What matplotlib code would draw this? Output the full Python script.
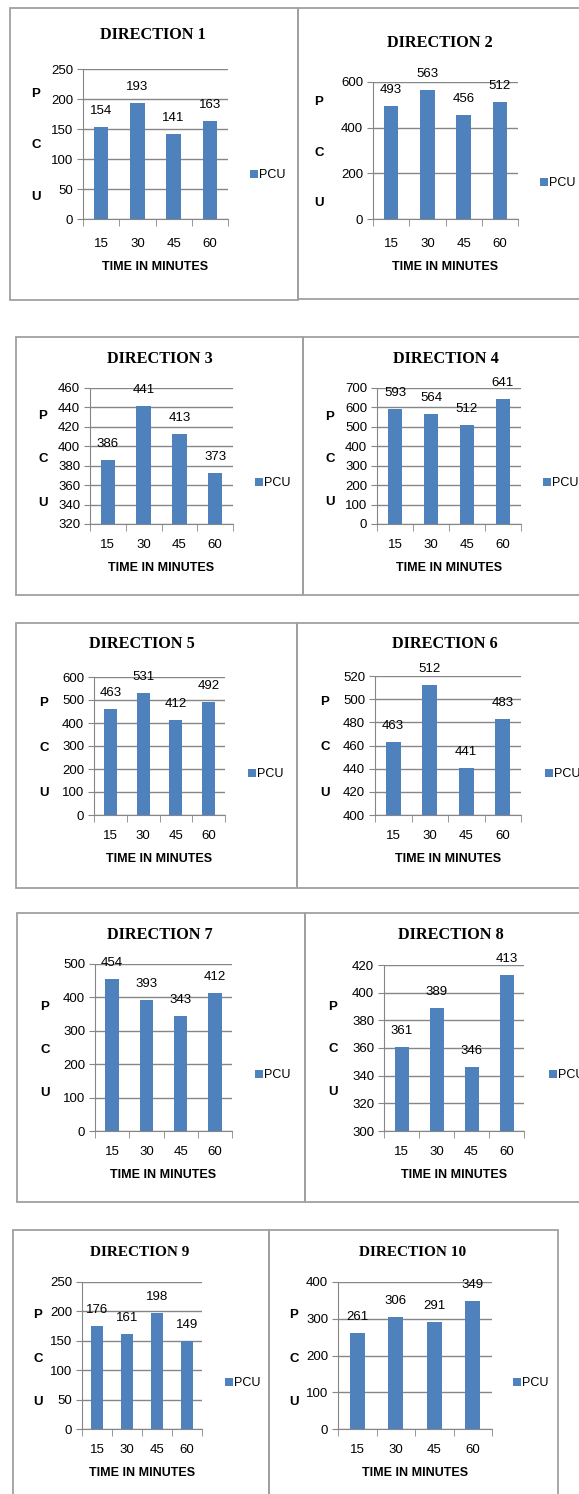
import numpy as np
import matplotlib
matplotlib.use("Agg")
import matplotlib.pyplot as plt
from matplotlib.patches import Rectangle

# data
times = ["15", "30", "45", "60"]
titles = ["DIRECTION %d" % i for i in range(1, 11)]
pcu_d1 = [154, 193, 141, 163]
pcu_d2 = [493, 563, 456, 512]
pcu_d3 = [386, 441, 413, 373]
pcu_d4 = [593, 564, 512, 641]
pcu_d5 = [463, 531, 412, 492]
pcu_d6 = [463, 512, 441, 483]
pcu_d7 = [454, 393, 343, 412]
pcu_d8 = [361, 389, 346, 413]
pcu_d9 = [176, 161, 198, 149]
pcu_d10 = [261, 306, 291, 349]
pcu_all = [pcu_d1, pcu_d2, pcu_d3, pcu_d4, pcu_d5,
           pcu_d6, pcu_d7, pcu_d8, pcu_d9, pcu_d10]
# y axis (min, max, step)
y_axes = [(0, 250, 50), (0, 600, 200), (320, 460, 20), (0, 700, 100),
          (0, 600, 100), (400, 520, 20), (0, 500, 100), (300, 420, 20),
          (0, 250, 50), (0, 400, 100)]

# layout in pixels: frame box, axes box, title (x,y), legend (x,y), P/C/U (x, yP, yU)
W, H = 579, 1494
layout = [
    ((10, 8, 298, 300), (83, 69, 228, 219), (153, 35), (250, 175), (36, 94, 197)),
    ((298, 8, 600, 299), (373, 82, 518, 219), (440, 43), (540, 183), (319, 102, 203)),
    ((16, 337, 303, 595), (90, 388, 233, 524), (160, 359), (255, 483), (43, 416, 503)),
    ((303, 337, 600, 595), (377, 388, 521, 524), (446, 359), (543, 483), (330, 417, 502)),
    ((16, 623, 297, 888), (94, 677, 225, 815), (142, 644), (248, 774), (44, 703, 793)),
    ((297, 623, 600, 888), (375, 676, 521, 815), (445, 644), (545, 774), (325, 702, 793)),
    ((17, 913, 305, 1202), (95, 964, 232, 1131), (160, 935), (255, 1075), (45, 1007, 1093)),
    ((305, 913, 600, 1202), (384, 965, 524, 1131), (451, 935), (549, 1075), (333, 1007, 1092)),
    ((13, 1230, 269, 1520), (82, 1282, 202, 1429), (140, 1252), (225, 1383), (38, 1315, 1402)),
    ((269, 1230, 558, 1520), (338, 1282, 492, 1429), (413, 1252), (513, 1383), (294, 1315, 1402)),
]

bar_col = "#4F81BD"
grey = "#868686"
sans = ["Liberation Sans", "DejaVu Sans"]
serif = ["Liberation Serif", "DejaVu Serif"]

fig = plt.figure(figsize=(W / 100, H / 100), dpi=100)

def fx(x):
    return x / W

def fy(y):
    return 1 - y / H

for k in range(10):
    frame, box, tpos, lpos, pcu_pos = layout[k]
    # kotak di sekeliling tiap grafik
    fig.add_artist(Rectangle((fx(frame[0]), fy(frame[3])), fx(frame[2] - frame[0]),
                             (frame[3] - frame[1]) / H, transform=fig.transFigure,
                             fill=False, edgecolor="#A0A0A0", linewidth=1.3))
    ax = fig.add_axes([fx(box[0]), fy(box[3]), fx(box[2] - box[0]), (box[3] - box[1]) / H])
    x = np.arange(len(times))
    bars = ax.bar(x, pcu_all[k], width=0.4, color=bar_col, label="PCU", zorder=3)
    lo, hi, st = y_axes[k]
    ax.set_ylim(lo, hi)
    ax.set_yticks(np.arange(lo, hi + st / 2, st))
    ax.set_xlim(-0.5, 3.5)
    ax.set_xticks(x)
    ax.set_xticklabels(times)
    ax.set_xticks(np.arange(-0.5, 4, 1), minor=True)
    xpad = 13.5 if k < 2 else 10.5
    ax.tick_params(axis="x", which="major", length=0, pad=xpad, labelsize=9.5)
    ax.tick_params(axis="x", which="minor", length=5, color=grey, direction="out")
    ax.tick_params(axis="y", length=4, color=grey, labelsize=9.5, pad=3)
    for lab in ax.get_xticklabels() + ax.get_yticklabels():
        lab.set_family(sans)
    ax.grid(axis="y", color=grey, linewidth=1, zorder=0)
    for s in ["top", "right"]:
        ax.spines[s].set_visible(False)
    for s in ["left", "bottom"]:
        ax.spines[s].set_color(grey)
    # label nilai di atas batang
    for b, v in zip(bars, pcu_all[k]):
        ax.annotate(str(v), (b.get_x() + b.get_width() / 2, v), xytext=(0, 11.5),
                    textcoords="offset points", ha="center", va="center",
                    fontsize=9.5, family=sans)
    ax.set_xlabel("TIME IN MINUTES", fontsize=9, fontweight="bold", family=sans, labelpad=8)
    # huruf P C U di kiri
    px, p_y, u_y = pcu_pos
    for letter, ly in zip("PCU", [p_y, (p_y + u_y) / 2, u_y]):
        fig.text(fx(px), fy(ly), letter, fontsize=9.5, fontweight="bold",
                 family=sans, ha="center", va="center")
    tsize = 11 if k >= 8 else 11.7
    fig.text(fx(tpos[0]), fy(tpos[1]), titles[k], fontsize=tsize, fontweight="bold",
             family=serif, ha="center", va="center")
    ax.legend(loc="center left", bbox_to_anchor=(fx(lpos[0]), fy(lpos[1])),
              bbox_transform=fig.transFigure, frameon=False, handlelength=0.6,
              handleheight=0.6, handletextpad=0.15, borderpad=0, borderaxespad=0,
              prop={"family": sans, "size": 9})

fig.savefig("out.png", dpi=100)
